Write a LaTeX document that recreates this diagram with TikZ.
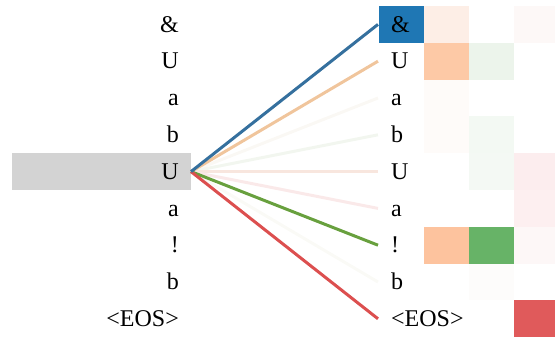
\documentclass[tikz,border=0pt]{standalone}
\usepackage{fontspec}
\setmainfont{Liberation Serif}
\definecolor{boxblue}{HTML}{1F77B4}
\definecolor{srcgray}{HTML}{D3D3D3}
\definecolor{lblue}{HTML}{35709E}
\definecolor{lorange}{HTML}{F0C59C}
\definecolor{lgreen}{HTML}{68A03E}
\definecolor{lred}{HTML}{DC4F4F}
\definecolor{fa}{HTML}{FAF8F4}
\definecolor{fb}{HTML}{F2F6EF}
\definecolor{fu}{HTML}{F8E6DE}
\definecolor{fa2}{HTML}{FAE9E9}
\definecolor{fb2}{HTML}{FAFAF6}
\newcommand\hmcell[5]{\definecolor{hmtmp}{HTML}{#1}\fill[hmtmp] (#2,#3) rectangle (#4,#5);}
\begin{document}
\begin{tikzpicture}[x=1pt,y=-1pt,
  tok/.style={font=\fontsize{24}{24}\selectfont, text height=15.6pt, text depth=0pt, inner ysep=0pt},
  ltok/.style={tok, anchor=east, inner xsep=0pt},
  rtok/.style={tok, anchor=west, inner xsep=13pt},
  link/.style={line width=3pt}]
\useasboundingbox (0,0) rectangle (555,339);
% heatmap cells
\fill[boxblue] (379,6) rectangle (423.5,42.8);
\hmcell{FDEEE6}{423.5}{6}{468.5}{42.8}
\hmcell{FDF8F7}{513.5}{6}{558}{42.8}
\hmcell{FDC9A6}{423.5}{42.8}{468.5}{79.6}
\hmcell{ECF4EB}{468.5}{42.8}{513.5}{79.6}
\hmcell{FEFBF9}{423.5}{79.6}{468.5}{116.4}
\hmcell{FEFBF9}{423.5}{116.4}{468.5}{153.2}
\hmcell{F3F9F3}{468.5}{116.4}{513.5}{153.2}
\hmcell{F4F9F4}{468.5}{153.2}{513.5}{190}
\hmcell{FCEDEE}{513.5}{153.2}{558}{190}
\hmcell{FDEFF0}{513.5}{190}{558}{226.8}
\hmcell{FDC39E}{423.5}{226.8}{468.5}{263.6}
\hmcell{67B367}{468.5}{226.8}{513.5}{263.6}
\hmcell{FDF7F7}{513.5}{226.8}{558}{263.6}
\hmcell{FDFCFB}{468.5}{263.6}{513.5}{300.4}
\hmcell{E05A5B}{513.5}{300.4}{558}{337.2}
% source box
\node[fill=srcgray, minimum width=179pt, minimum height=36.8pt, inner sep=0pt, anchor=east] (src) at (191,171.6) {};
% left tokens
\node[ltok] (l0) at (179,24.4) {\&};
\node[ltok] (l1) at (179,61.2) {U};
\node[ltok] (l2) at (179,98) {a};
\node[ltok] (l3) at (179,134.8) {b};
\node[ltok] (l4) at (179,171.6) {U};
\node[ltok] (l5) at (179,208.4) {a};
\node[ltok] (l6) at (179,245.2) {!};
\node[ltok] (l7) at (179,282) {b};
\node[ltok] (l8) at (179,318.8) {<EOS>};
% right tokens
\node[rtok] (r0) at (378,24.4) {\&};
\node[rtok] (r1) at (378,61.2) {U};
\node[rtok] (r2) at (378,98) {a};
\node[rtok] (r3) at (378,134.8) {b};
\node[rtok] (r4) at (378,171.6) {U};
\node[rtok] (r5) at (378,208.4) {a};
\node[rtok] (r6) at (378,245.2) {!};
\node[rtok] (r7) at (378,282) {b};
\node[rtok] (r8) at (378,318.8) {<EOS>};
% links
\draw[link, fb2] (src.east) -- (r7.west);
\draw[link, fa] (src.east) -- (r2.west);
\draw[link, fb] (src.east) -- (r3.west);
\draw[link, fu] (src.east) -- (r4.west);
\draw[link, fa2] (src.east) -- (r5.west);
\draw[link, lorange] (src.east) -- (r1.west);
\draw[link, lgreen] (src.east) -- (r6.west);
\draw[link, lred] (src.east) -- (r8.west);
\draw[link, lblue] (src.east) -- (r0.west);
\end{tikzpicture}
\end{document}
